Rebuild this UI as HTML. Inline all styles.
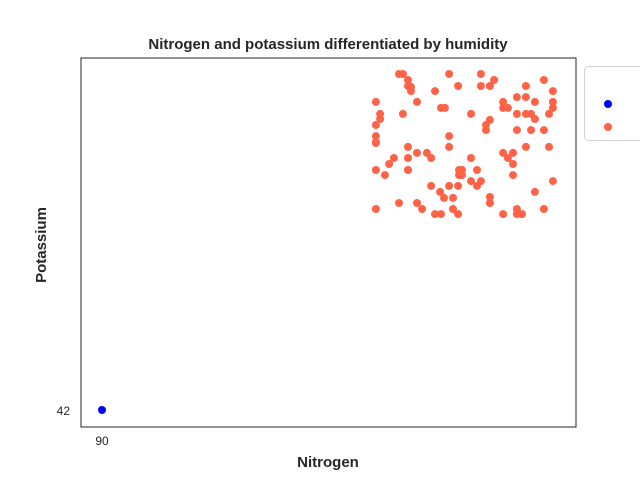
<!DOCTYPE html>
<html><head><meta charset="utf-8"><style>
body{margin:0;background:#fff;width:640px;height:480px;overflow:hidden;font-family:"Liberation Sans",sans-serif}
</style></head><body>
<svg id="chart" width="640" height="480" xmlns="http://www.w3.org/2000/svg">
<text x="328" y="49" text-anchor="middle" font-size="15" font-weight="bold" fill="#262626">Nitrogen and potassium differentiated by humidity</text>
<rect x="81" y="58" width="495" height="369" fill="none" stroke="#262626" stroke-width="1"/>
<g id="marks"></g>
<text x="102" y="445" text-anchor="middle" font-size="12" fill="#262626">90</text>
<text x="70" y="415" text-anchor="end" font-size="12" fill="#262626">42</text>
<text x="328" y="467" text-anchor="middle" font-size="15" font-weight="bold" fill="#262626">Nitrogen</text>
<text transform="translate(46,245) rotate(-90)" text-anchor="middle" font-size="15" font-weight="bold" fill="#262626">Potassium</text>
<g>
<rect x="584.5" y="66.5" width="70" height="74" rx="4" fill="#fff" stroke="#d0d0d0"/>
<circle cx="608" cy="104" r="4" fill="#0000ff"/>
<text x="639" y="109" font-size="13" fill="#262626">Low</text>
<circle cx="608" cy="127" r="4" fill="#ff6347"/>
<text x="639" y="132" font-size="13" fill="#262626">High</text>
</g>
</svg>
<script>
const lowN=[90];
const lowK=[42];
const highN=[189,190.3,192,192,193,193,195,201,205.7,208.7,203,204.3,190.3,181.3,182.7,182.7,181.3,181.3,181.3,205.7,213,216.3,216.3,220.7,219.3,219.3,218,218,223.7,223.7,225.3,228.3,231.3,231.3,234.3,237.3,240.3,240.3,240.3,239,228.3,231.3,233,234.3,228.3,233,237.3,
181.3,192,205.7,195,198.3,199.7,192,187.3,185.7,181.3,184.3,192,209,210,209,210,213,215,213,216.3,215,199.7,205.7,208.7,202.7,204,207,189,195,196.7,181.3,201,203,207,208.7,219.3,219.3,223.7,228.3,228.3,230,237.3,234.3,240.3,223.7,227,225.3,227,227,231.3,239];
const highK=[154,154,152,150,149.7,148.3,144.7,148.3,154,150,142.7,142.7,140.7,144.7,140.7,139,137,133.3,131.3,133.3,140.7,154,150,152,150,138.7,137,135.3,144.7,142.7,142.7,146.3,150,146.3,144.7,152,148.3,144.7,142.7,140.7,140.7,140.7,140.7,139,135.3,135.3,135.3,
131,129.7,129.7,127.7,127.7,126,126,126,124,122,120.3,122,122,122,120.3,120.3,126,122,118.3,118.3,116.7,116.7,116.7,116.7,114.7,112.7,112.7,111,111,109,109,107.3,107.3,109,107.3,113,111,107.3,109,107.3,107.3,109,114.7,118.3,127.7,127.7,126,124,120.3,129.7,129.7];
const xScale=v=>102+(v-90)*3;
const yScale=v=>410-(v-42)*3;
const g=document.getElementById('marks');
function dot(x,y,c,name){
  const el=document.createElementNS('http://www.w3.org/2000/svg','circle');
  el.setAttribute('cx',xScale(x));el.setAttribute('cy',yScale(y));el.setAttribute('r',4);el.setAttribute('fill',c);
  
  
  g.appendChild(el);
}
lowN.forEach((v,i)=>dot(v,lowK[i],'#0000ff','point-low'));
highN.forEach((v,i)=>dot(v,highK[i],'#ff6347','point-high'));
</script>
</body></html>
